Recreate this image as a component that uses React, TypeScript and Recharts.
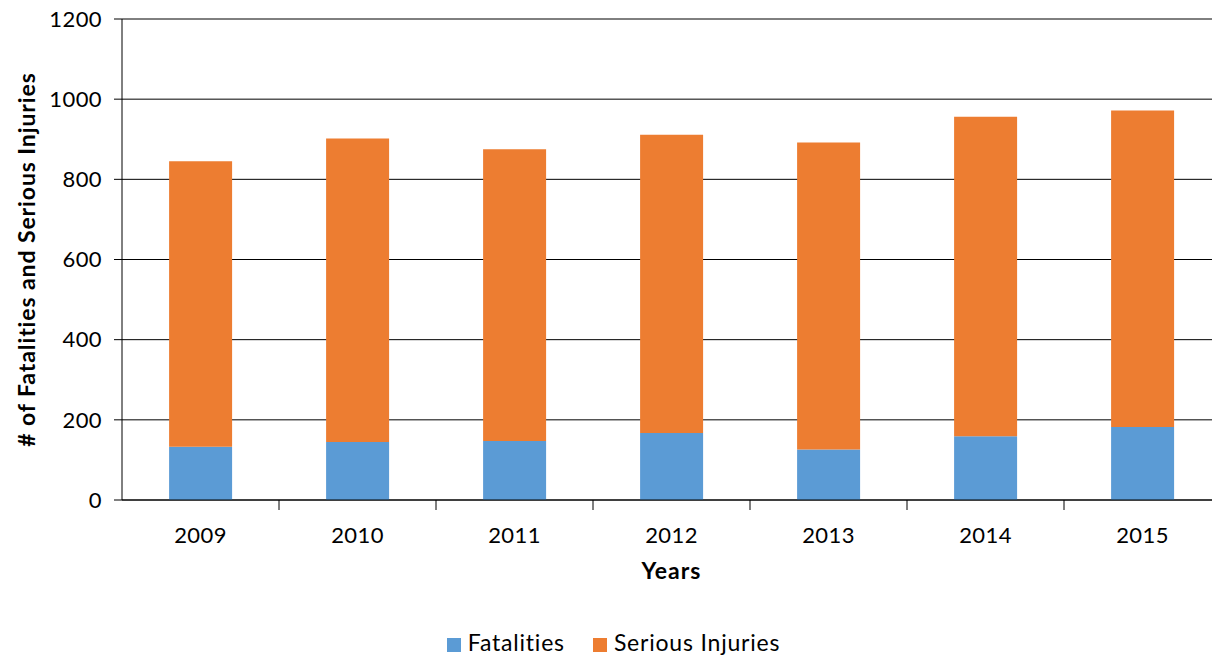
import React from 'react'
import { Bar, BarChart, CartesianGrid, Legend, XAxis, YAxis } from 'recharts'

const years = ['2009', '2010', '2011', '2012', '2013', '2014', '2015']
const fatalities = [133, 145, 147, 167, 126, 159, 182]
const seriousInjuries = [712, 757, 728, 744, 766, 797, 790]
const yTicks = [0, 200, 400, 600, 800, 1000, 1200]

const chartData = years.map((year, i) => ({
  year,
  Fatalities: fatalities[i],
  'Serious Injuries': seriousInjuries[i],
}))

const FONT = 'Lato, "Open Sans", sans-serif'
// the original chart runs past the right edge of the picture, so it is cropped
const CHART_W = 1221
const BAND = (CHART_W - 122) / years.length

const YearTick = (props: any) => {
  const { x, y, payload, index } = props
  return (
    <g>
      <text x={x} y={y + 43} textAnchor="middle" fontFamily={FONT} fontSize={22} letterSpacing={0.4} fill="#000">
        {payload.value}
      </text>
      {index < years.length - 1 && (
        <line x1={x + BAND / 2} x2={x + BAND / 2} y1={y} y2={y + 10} stroke="#000" />
      )}
    </g>
  )
}

const App = () => {
  return (
    <div style={{ position: 'absolute', left: 0, top: 0, width: 1212, height: 660, overflow: 'hidden', background: '#fff' }}>
      <BarChart
        width={CHART_W}
        height={660}
        data={chartData}
        margin={{ top: 19, right: 0, bottom: 5, left: 0 }}
        barCategoryGap="30%"
      >
        <CartesianGrid vertical={false} stroke="#000" />
        <XAxis
          dataKey="year"
          height={129}
          tickSize={0}
          tickMargin={0}
          axisLine={{ stroke: '#000' }}
          tick={<YearTick />}
          interval={0}
          label={{
            value: 'Years',
            position: 'insideTop',
            offset: 63,
            fontFamily: FONT,
            fontSize: 23,
            letterSpacing: 1,
            fontWeight: 'bold',
            fill: '#000',
          }}
        />
        <YAxis
          width={122}
          domain={[0, 1200]}
          ticks={yTicks}
          interval={0}
          tickSize={8}
          tickMargin={12}
          axisLine={{ stroke: '#000' }}
          tickLine={{ stroke: '#000' }}
          tick={{ fontFamily: FONT, fontSize: 22, letterSpacing: 0.4, fill: '#000' }}
          label={{
            value: '# of Fatalities and Serious Injuries',
            angle: -90,
            position: 'center',
            dx: -34,
            fontFamily: FONT,
            fontSize: 23,
            letterSpacing: 0.9,
            fontWeight: 'bold',
            fill: '#000',
          }}
        />
        <Legend
          verticalAlign="bottom"
          iconType="square"
          iconSize={14}
          wrapperStyle={{ left: 17, fontFamily: FONT, fontSize: 23, lineHeight: '26px' }}
          formatter={(value: string) => (
            <span style={{ color: '#000', marginLeft: 3, marginRight: 18, letterSpacing: 0.8 }}>{value}</span>
          )}
        />
        <Bar dataKey="Fatalities" stackId="a" fill="#5B9BD5" isAnimationActive={false} />
        <Bar dataKey="Serious Injuries" stackId="a" fill="#ED7D31" isAnimationActive={false} />
      </BarChart>
    </div>
  )
}

export default App
